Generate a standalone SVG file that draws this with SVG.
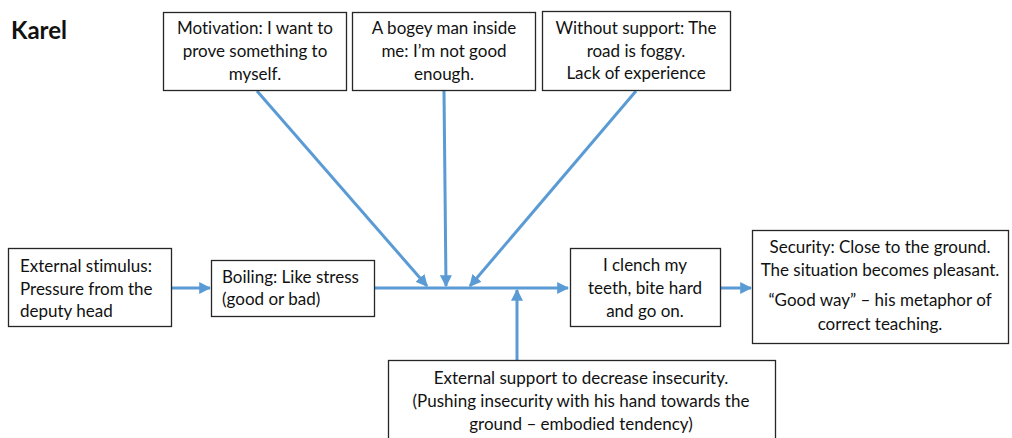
<svg xmlns="http://www.w3.org/2000/svg" width="1012" height="438" viewBox="0 0 1012 438">
  <style>
    .box { fill: #ffffff; stroke: #262626; stroke-width: 1.3; }
    .t { font-family: Lato, "Open Sans", "Liberation Sans", sans-serif; font-size: 17px; fill: #111111; text-anchor: middle; font-variant-ligatures: none; }
    .title { font-family: Lato, "Liberation Sans", sans-serif; font-size: 24px; font-weight: bold; fill: #111111; }
    .c { stroke: #5B9BD5; stroke-width: 3; fill: none; }
  </style>
  <defs>
    <marker id="arr" viewBox="0 0 10 10" refX="9" refY="5" markerWidth="4" markerHeight="4" orient="auto" markerUnits="strokeWidth">
      <path d="M0,0 L10,5 L0,10 z" fill="#5B9BD5"/>
    </marker>
  </defs>
  <rect width="1012" height="438" fill="#ffffff"/>

  <text class="title" x="11" y="39">Karel</text>

  <g id="connectors">
    <line class="c" x1="172" y1="288" x2="210" y2="288" marker-end="url(#arr)"/>
    <line class="c" x1="375" y1="288" x2="568" y2="288" marker-end="url(#arr)"/>
    <line class="c" x1="721" y1="288" x2="751" y2="288" marker-end="url(#arr)"/>
    <line class="c" x1="257" y1="91" x2="427" y2="286" marker-end="url(#arr)"/>
    <line class="c" x1="444" y1="91" x2="446" y2="286" marker-end="url(#arr)"/>
    <line class="c" x1="636" y1="91" x2="470" y2="286" marker-end="url(#arr)"/>
    <line class="c" x1="517" y1="360" x2="517" y2="290" marker-end="url(#arr)"/>
  </g>

  <g id="motivation">
    <rect class="box" x="163.5" y="12.5" width="183" height="78"/>
    <text class="t" x="255" y="34">Motivation: I want to</text>
    <text class="t" x="255" y="57">prove something to</text>
    <text class="t" x="255" y="80">myself.</text>
  </g>
  <g id="bogey">
    <rect class="box" x="352.5" y="12.5" width="183" height="78"/>
    <text class="t" x="444" y="34">A bogey man inside</text>
    <text class="t" x="444" y="57">me: I’m not good</text>
    <text class="t" x="444" y="80">enough.</text>
  </g>
  <g id="without-support">
    <rect class="box" x="542.5" y="11.5" width="188" height="79"/>
    <text class="t" x="636" y="34">Without support: The</text>
    <text class="t" x="636" y="57">road is foggy.</text>
    <text class="t" x="636" y="79">Lack of experience</text>
  </g>
  <g id="stimulus">
    <rect class="box" x="8.5" y="248.5" width="163" height="78"/>
    <text class="t" x="20" y="272" style="text-anchor:start">External stimulus:</text>
    <text class="t" x="20" y="295" style="text-anchor:start">Pressure from the</text>
    <text class="t" x="20" y="317" style="text-anchor:start">deputy head</text>
  </g>
  <g id="boiling">
    <rect class="box" x="211.5" y="260.5" width="163" height="56"/>
    <text class="t" x="222" y="283" style="text-anchor:start">Boiling: Like stress</text>
    <text class="t" x="222" y="305" style="text-anchor:start">(good or bad)</text>
  </g>
  <g id="clench">
    <rect class="box" x="570.5" y="248.5" width="150" height="78"/>
    <text class="t" x="645" y="271">I clench my</text>
    <text class="t" x="645" y="294">teeth, bite hard</text>
    <text class="t" x="645" y="317">and go on.</text>
  </g>
  <g id="security">
    <rect class="box" x="752.5" y="230.5" width="256" height="113"/>
    <text class="t" x="880" y="253">Security: Close to the ground.</text>
    <text class="t" x="880" y="276">The situation becomes pleasant.</text>
    <text class="t" x="880" y="306">“Good way”  – his metaphor of</text>
    <text class="t" x="880" y="330">correct teaching.</text>
  </g>
  <g id="external-support">
    <rect class="box" x="388.5" y="360.5" width="387" height="90"/>
    <text class="t" x="581" y="384">External support to decrease insecurity.</text>
    <text class="t" x="581" y="407">(Pushing insecurity with his hand towards the</text>
    <text class="t" x="581" y="430">ground – embodied tendency)</text>
  </g>
</svg>
